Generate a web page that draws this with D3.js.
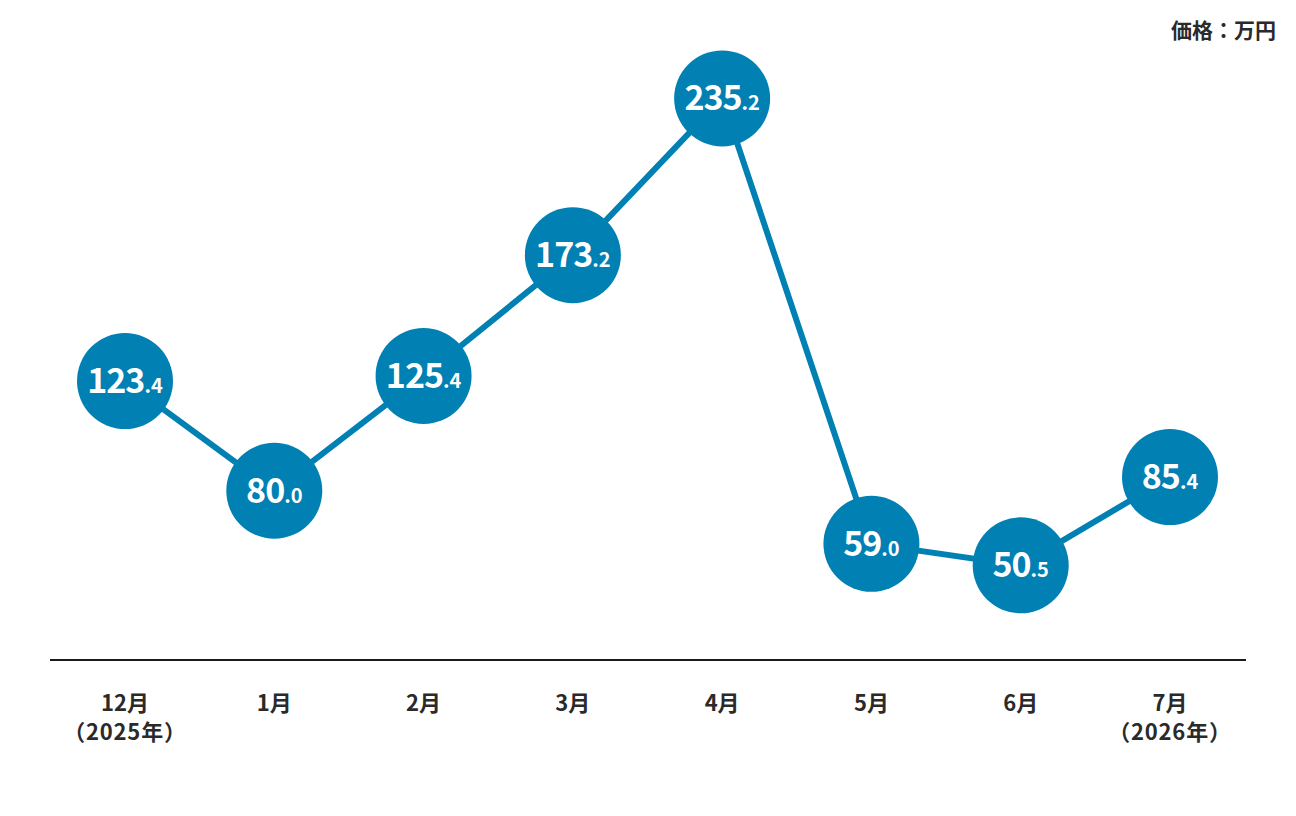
<!DOCTYPE html>
<html>
<head>
<meta charset="utf-8">
<script src="https://cdn.jsdelivr.net/npm/d3@7"></script>
<style>
  body { margin: 0; background: #fff; }
  text { font-family: "Noto Sans CJK JP", "Noto Sans", sans-serif; }
</style>
</head>
<body>
<script>
// data
var months = ["12月", "1月", "2月", "3月", "4月", "5月", "6月", "7月"];
var years = ["（2025年）", "", "", "", "", "", "", "（2026年）"];
var prices = [123.4, 80.0, 125.4, 173.2, 235.2, 59.0, 50.5, 85.4];
var unitLabel = "価格：万円";

var width = 1296;
var height = 816;
var blue = "#0080b3";

var svg = d3.select("body").append("svg")
    .attr("width", width)
    .attr("height", height);

var x = d3.scalePoint()
    .domain(months)
    .range([125, 1170]);

var y = d3.scaleLinear()
    .domain([0, 250])
    .range([693, 61]);

// baseline axis
svg.append("line")
    .attr("x1", 50).attr("x2", 1246)
    .attr("y1", 660).attr("y2", 660)
    .attr("stroke", "#1a1a1a")
    .attr("stroke-width", 2);

// month labels
var labels = svg.append("g").selectAll("text")
    .data(months)
    .enter().append("text")
    .attr("x", function(d) { return x(d); })
    .attr("y", 711)
    .attr("text-anchor", "middle")
    .attr("font-size", 22)
    .attr("font-weight", "bold")
    .attr("fill", "#2a2a2a");
labels.append("tspan").text(function(d) { return d; });
labels.append("tspan")
    .attr("x", function(d) { return x(d); })
    .attr("dy", 29)
    .attr("letter-spacing", 0.8)
    .text(function(d, i) { return years[i]; });

// unit
svg.append("text")
    .attr("x", 1276)
    .attr("y", 38)
    .attr("text-anchor", "end")
    .attr("font-size", 21)
    .attr("font-weight", "bold")
    .attr("fill", "#2a2a2a")
    .text(unitLabel);

// line
var line = d3.line()
    .x(function(d, i) { return x(months[i]); })
    .y(function(d) { return y(d); });

svg.append("path")
    .datum(prices)
    .attr("d", line)
    .attr("fill", "none")
    .attr("stroke", blue)
    .attr("stroke-width", 6);

// bubbles
var dots = svg.append("g").selectAll("g")
    .data(prices)
    .enter().append("g")
    .attr("transform", function(d, i) {
        return "translate(" + x(months[i]) + "," + y(d) + ")";
    });

dots.append("circle")
    .attr("r", 48)
    .attr("fill", blue);

var vals = dots.append("text")
    .attr("text-anchor", "middle")
    .attr("y", 12)
    .attr("fill", "#fff")
    .attr("font-weight", "bold");
vals.append("tspan")
    .attr("font-size", 34)
    .attr("letter-spacing", -1)
    .text(function(d) { return Math.floor(d); });
vals.append("tspan")
    .attr("font-size", 20)
    .text(function(d) { return "." + d.toFixed(1).split(".")[1]; });
</script>
</body>
</html>
